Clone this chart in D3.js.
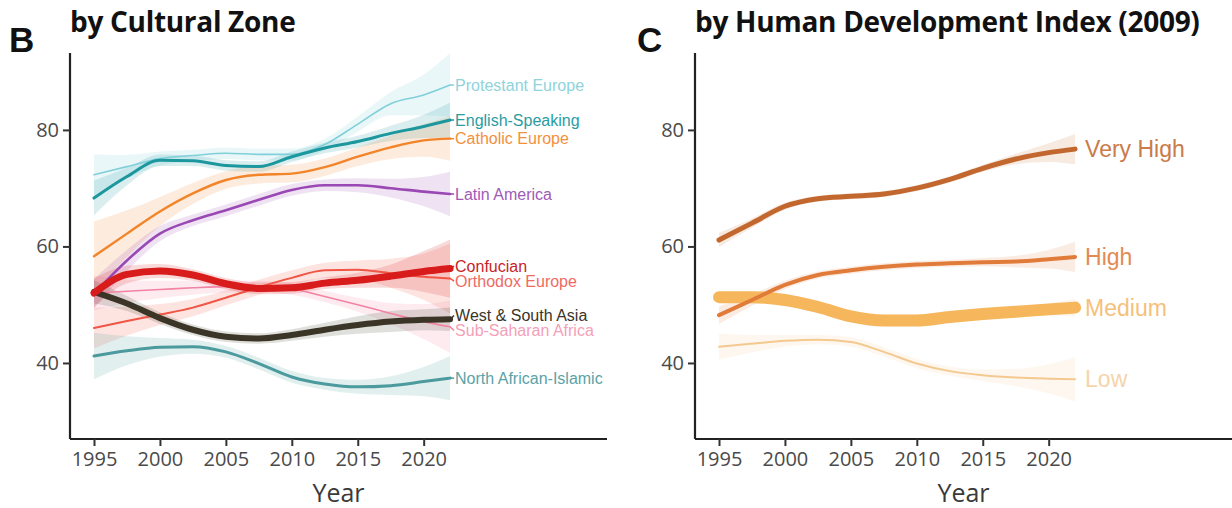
<!DOCTYPE html>
<html>
<head>
<meta charset="utf-8">
<script src="https://cdn.jsdelivr.net/npm/d3@7"></script>
<style>
  body { margin: 0; background: #fff; }
  svg { display: block; }
</style>
</head>
<body>
<svg id="chart" width="1232" height="508"></svg>
<script>
var years = [1995, 1997.5, 2000, 2002.5, 2005, 2007.5, 2010, 2012.5, 2015, 2017.5, 2020, 2022]
var tickYears = [1995, 2000, 2005, 2010, 2015, 2020]
var tickValues = [40, 60, 80]

// panel B: cultural zones
var zoneNames = ["Protestant Europe", "English-Speaking", "Catholic Europe", "Latin America",
  "Confucian", "Orthodox Europe", "West & South Asia", "Sub-Saharan Africa", "North African-Islamic"]
var protestantEurope = [72.3, 73.7, 75.1, 75.6, 76.0, 75.8, 75.8, 77.5, 81.0, 84.5, 86.0, 87.7]
var englishSpeaking  = [68.3, 72.0, 74.8, 74.7, 73.9, 73.7, 75.4, 76.9, 78.0, 79.4, 80.6, 81.7]
var catholicEurope   = [58.3, 62.2, 66.0, 69.1, 71.4, 72.3, 72.5, 73.6, 75.4, 77.0, 78.2, 78.5]
var latinAmerica     = [51.9, 57.6, 62.2, 64.5, 66.2, 68.0, 69.7, 70.5, 70.5, 70.0, 69.4, 69.0]
var confucian        = [52.0, 55.2, 55.8, 55.1, 53.6, 52.8, 52.9, 53.7, 54.2, 54.9, 55.7, 56.2]
var orthodoxEurope   = [46.0, 47.2, 48.3, 49.5, 51.2, 53.0, 54.6, 55.9, 56.0, 55.4, 54.8, 54.5]
var westSouthAsia    = [52.2, 50.2, 47.7, 45.7, 44.5, 44.2, 44.8, 45.7, 46.5, 47.1, 47.4, 47.5]
var subSaharanAfrica = [52.0, 52.3, 52.6, 52.9, 53.1, 53.1, 52.7, 51.4, 50.0, 48.5, 47.1, 46.2]
var northAfrican     = [41.2, 42.1, 42.7, 42.8, 41.9, 39.9, 37.6, 36.4, 35.9, 36.1, 36.8, 37.4]

// half widths of the confidence ribbons
var protestantSe = [3.5, 2.0, 1.2, 1.0, 1.0, 1.0, 1.0, 1.0, 1.3, 2.0, 3.5, 5.5]
var englishSe    = [3.0, 1.5, 1.0, 0.9, 0.9, 0.9, 0.9, 0.9, 1.0, 1.3, 2.0, 3.0]
var catholicSe   = [6.0, 4.0, 2.5, 1.8, 1.5, 1.5, 1.5, 1.5, 1.6, 2.0, 2.8, 3.8]
var latinSe      = [2.5, 1.8, 1.3, 1.0, 1.0, 1.0, 1.0, 1.0, 1.2, 1.6, 2.5, 3.8]
var confucianSe  = [2.5, 1.5, 1.2, 1.0, 1.0, 1.0, 1.0, 1.0, 1.3, 2.0, 3.5, 5.0]
var orthodoxSe   = [3.5, 2.5, 1.8, 1.5, 1.3, 1.3, 1.3, 1.3, 1.6, 2.5, 4.0, 6.0]
var westSe       = [2.0, 1.3, 1.0, 0.9, 0.9, 0.9, 1.0, 1.2, 1.5, 1.8, 1.8, 2.0]
var subSaharanSe = [3.0, 2.0, 1.5, 1.2, 1.0, 1.0, 1.0, 1.0, 1.2, 1.8, 3.0, 4.5]
var northSe      = [4.0, 2.5, 1.6, 1.2, 1.0, 1.0, 1.0, 1.0, 1.2, 1.6, 2.5, 3.8]

// panel C: human development index groups
var hdiNames = ["Very High", "High", "Medium", "Low"]
var veryHigh = [61.1, 64.0, 66.9, 68.2, 68.6, 69.0, 70.0, 71.5, 73.4, 75.0, 76.1, 76.7]
var high     = [48.2, 50.8, 53.4, 55.1, 55.9, 56.5, 56.9, 57.1, 57.3, 57.4, 57.8, 58.2]
var medium   = [51.3, 51.3, 50.8, 49.6, 48.0, 47.3, 47.3, 47.9, 48.4, 48.8, 49.2, 49.5]
var low      = [42.8, 43.3, 43.8, 44.0, 43.6, 41.9, 39.9, 38.6, 37.9, 37.5, 37.3, 37.2]
var veryHighSe = [1.2, 0.8, 0.6, 0.5, 0.5, 0.5, 0.5, 0.5, 0.6, 0.9, 1.6, 2.6]
var highSe     = [1.5, 1.0, 0.7, 0.6, 0.6, 0.6, 0.6, 0.6, 0.7, 1.0, 1.6, 2.6]
var mediumSe   = [1.0, 0.7, 0.5, 0.5, 0.5, 0.5, 0.5, 0.5, 0.5, 0.7, 1.0, 1.5]
var lowSe      = [2.2, 1.5, 1.0, 0.8, 0.8, 0.8, 0.8, 0.8, 1.0, 1.5, 2.5, 3.8]

var svg = d3.select("#chart")

var zones = [
  {name: zoneNames[0], v: protestantEurope, se: protestantSe, color: "#7fd0d9", text: "#8fd3db", w: 1.6},
  {name: zoneNames[1], v: englishSpeaking, se: englishSe, color: "#1b979d", text: "#2a9ca2", w: 3},
  {name: zoneNames[2], v: catholicEurope, se: catholicSe, color: "#f2842a", text: "#f29040", w: 2.4},
  {name: zoneNames[3], v: latinAmerica, se: latinSe, color: "#9a48b4", text: "#a05ab8", w: 2.6},
  {name: zoneNames[5], v: orthodoxEurope, se: orthodoxSe, color: "#f05545", text: "#ef6a62", w: 2},
  {name: zoneNames[7], v: subSaharanAfrica, se: subSaharanSe, color: "#f283a3", text: "#f4a0b8", w: 1.6},
  {name: zoneNames[8], v: northAfrican, se: northSe, color: "#4b9a9e", text: "#5ba3a6", w: 3},
  {name: zoneNames[6], v: westSouthAsia, se: westSe, color: "#3a3526", text: "#3a3526", w: 6},
  {name: zoneNames[4], v: confucian, se: confucianSe, color: "#d81b1b", text: "#c81e28", w: 7}
]

var groups = [
  {name: hdiNames[3], v: low, se: lowSe, color: "#f4c990", text: "#f6d4aa", w: 2},
  {name: hdiNames[2], v: medium, se: mediumSe, color: "#f6b65c", text: "#f5c17a", w: 12},
  {name: hdiNames[1], v: high, se: highSe, color: "#e17b3a", text: "#e38a52", w: 4},
  {name: hdiNames[0], v: veryHigh, se: veryHighSe, color: "#c2672e", text: "#c97b4a", w: 5}
]

function repel(items, gap) {
  items.sort(function(a, b) { return a.ly - b.ly })
  for (let k = 0; k < 20; k++) {
    for (let i = 1; i < items.length; i++) {
      let d = items[i].ly - items[i-1].ly
      if (d < gap) {
        let push = (gap - d) / 2
        items[i].ly += push
        items[i-1].ly -= push
      }
    }
  }
}

function drawPanel(p) {
  let x = d3.scaleLinear().domain([1993.18, 2033.9]).range([p.left, p.right])
  let y = d3.scaleLinear().domain([26.95, 93.2]).range([439, 53])
  let g = svg.append("g")

  let area = d3.area()
    .x(function(d) { return x(d.year) })
    .y0(function(d) { return y(d.v - d.se) })
    .y1(function(d) { return y(d.v + d.se) })
    .curve(d3.curveMonotoneX)
  let line = d3.line()
    .x(function(d) { return x(d.year) })
    .y(function(d) { return y(d.v) })
    .curve(d3.curveMonotoneX)

  p.series.forEach(function(s) {
    s.pts = years.map(function(yr, i) { return {year: yr, v: s.v[i], se: s.se[i]} })
  })
  g.selectAll(".band").data(p.series).join("path")
    .attr("d", function(s) { return area(s.pts) })
    .attr("fill", function(s) { return s.color })
    .attr("fill-opacity", p.bandOpacity)
  g.selectAll(".line").data(p.series).join("path")
    .attr("d", function(s) { return line(s.pts) })
    .attr("fill", "none")
    .attr("stroke", function(s) { return s.color })
    .attr("stroke-width", function(s) { return s.w })
    .attr("stroke-linecap", "round")

  // labels at line ends
  let endX = x(years[years.length - 1])
  let labs = p.series.map(function(s) {
    let yv = y(s.v[s.v.length - 1])
    return {s: s, y0: yv, ly: yv}
  })
  repel(labs, p.gap)
  labs.forEach(function(l) {
    if (p.leader) {
      g.append("line")
        .attr("x1", endX).attr("y1", l.y0)
        .attr("x2", endX + p.labelDx - 1).attr("y2", l.ly)
        .attr("stroke", l.s.color).attr("stroke-width", 1.5)
    }
    g.append("text")
      .attr("x", endX + p.labelDx).attr("y", l.ly)
      .attr("dy", "0.35em")
      .attr("fill", l.s.text)
      .style("font-family", "'Liberation Sans', Arial, sans-serif")
      .style("font-size", p.labelSize + "px")
      .text(l.s.name)
  })

  // axes
  let ax = g.append("g").attr("transform", "translate(0,439)")
    .call(d3.axisBottom(x).tickValues(tickYears).tickFormat(d3.format("d")).tickSize(7).tickPadding(6))
  let ay = g.append("g").attr("transform", "translate(" + p.left + ",0)")
    .call(d3.axisLeft(y).tickValues(tickValues).tickSize(7).tickPadding(4))
  ;[ax, ay].forEach(function(a) {
    a.select(".domain").attr("stroke", "#222").attr("stroke-width", 2.2)
    a.selectAll(".tick line").attr("stroke", "#333").attr("stroke-width", 2)
    a.selectAll(".tick text").attr("fill", "#4a4a4a")
      .style("font-family", "'Open Sans', sans-serif").style("font-size", "20px")
  })
  ax.select(".domain").attr("d", "M" + p.left + ",0H" + p.right)
  ay.select(".domain").attr("d", "M0,53V439")

  g.append("text")
    .attr("x", (p.left + p.right) / 2).attr("y", 502)
    .attr("text-anchor", "middle").attr("fill", "#3a3a3a")
    .style("font-family", "'Open Sans', sans-serif").style("font-size", "25px")
    .text("Year")

  g.append("text")
    .attr("x", p.letterX).attr("y", 52)
    .attr("fill", "#111")
    .style("font-family", "'Liberation Sans', Arial, sans-serif").style("font-weight", "bold").style("font-size", "35px")
    .text(p.letter)
  g.append("text")
    .attr("x", p.left).attr("y", 32)
    .attr("fill", "#111")
    .style("font-family", "'Open Sans', sans-serif").style("font-weight", "bold").style("font-size", "28px")
    .style("letter-spacing", "-0.3px")
    .text(p.title)
}

drawPanel({left: 70, right: 607, series: zones, bandOpacity: 0.16, leader: true, labelDx: 5, labelSize: 16, gap: 15,
  letter: "B", letterX: 9, title: "by Cultural Zone"})
drawPanel({left: 695, right: 1232, series: groups, bandOpacity: 0.14, leader: false, labelDx: 10, labelSize: 23, gap: 20,
  letter: "C", letterX: 637, title: "by Human Development Index (2009)"})
</script>
</body>
</html>
